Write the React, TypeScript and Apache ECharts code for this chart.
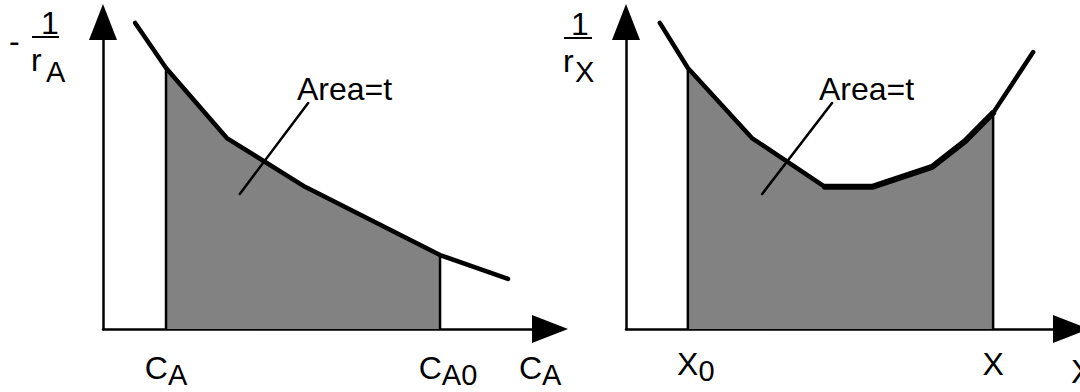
import React, { useEffect, useRef } from "react";
import * as echarts from "echarts";

// Curves in axis units (x: 0..100, y: 0..100)
const leftCurve: number[][] = [
  [7.2, 99.7], [14.1, 85.0], [27.7, 62.2], [45.2, 46.3], [75.4, 24.1], [90.6, 16.3],
];
const rightCurve: number[][] = [
  [7.6, 99.7], [13.9, 85.0], [28.3, 62.2], [44.7, 46.3], [55.3, 46.3],
  [68.8, 52.8], [76.2, 61.2], [82.5, 70.4], [91.5, 90.2],
];
// Integration limits
const leftLimits = [14.1, 75.4];
const rightLimits = [13.9, 82.5];
// Leader lines to the "Area=t" notes
const leftLeader: number[][] = [[30.6, 44.0], [45.9, 73.6]];
const rightLeader: number[][] = [[30.6, 44.0], [46.3, 73.6]];
// Tick labels on the x axes
const leftTickValues = [14.1, 75.4, 97.8];
const leftTickLabels = ["{c|C}{s|A}", "{cp|C}{s|A0}", "{c|C}{s|A}"];
const rightTickValues = [13.9, 82.5, 100];
const rightTickLabels = ["{cp|X}{s|0}", "{c|X}", "{cx|X}"];

const FONT = "'Liberation Sans', Arial, Helvetica, sans-serif";

const rich = {
  c: { fontSize: 32, lineHeight: 34, verticalAlign: "top", fontFamily: FONT, color: "#000" },
  cp: { fontSize: 32, lineHeight: 34, verticalAlign: "top", fontFamily: FONT, color: "#000", padding: [0, 0, 0, 16] },
  cx: { fontSize: 33, lineHeight: 34, verticalAlign: "top", fontFamily: FONT, color: "#000", padding: [7, 0, 0, 22] },
  s: { fontSize: 29, lineHeight: 34, verticalAlign: "top", fontFamily: FONT, color: "#000", padding: [8, 0, 0, 0] },
};

function areaData(curve: number[][], lim: number[]) {
  const inner = curve.filter((p) => p[0] >= lim[0] && p[0] <= lim[1]);
  return [[lim[0], 0], ...inner, [lim[1], 0]];
}

function xAxisFor(gridIndex: number, values: number[], labels: string[], margin: number) {
  return {
    type: "value",
    gridIndex,
    min: 0,
    max: 100,
    splitLine: { show: false },
    axisTick: { show: false },
    axisLine: {
      show: true,
      symbol: ["none", "triangle"],
      symbolSize: [28, 36],
      lineStyle: { color: "#000", width: 2.5 },
    },
    axisLabel: {
      show: true,
      customValues: values,
      margin,
      rich,
      hideOverlap: false,
      formatter: (v: number) => {
        const i = values.findIndex((x) => Math.abs(x - v) < 1e-6);
        return i >= 0 ? labels[i] : "";
      },
    },
  };
}

function yAxisFor(gridIndex: number) {
  return {
    type: "value",
    gridIndex,
    min: 0,
    max: 100,
    splitLine: { show: false },
    axisTick: { show: false },
    axisLabel: { show: false },
    axisLine: {
      show: true,
      symbol: ["none", "triangle"],
      symbolSize: [28, 36],
      lineStyle: { color: "#000", width: 2.5 },
    },
  };
}

function panelSeries(idx: number, curve: number[][], lim: number[], leader: number[][], thick?: number[]) {
  const list: any[] = [
    {
      type: "line",
      xAxisIndex: idx,
      yAxisIndex: idx,
      data: areaData(curve, lim),
      symbol: "none",
      lineStyle: { color: "#000", width: 2.5 },
      areaStyle: { color: "#828282", opacity: 1 },
      z: 2,
    },
    {
      type: "line",
      xAxisIndex: idx,
      yAxisIndex: idx,
      data: curve,
      symbol: "none",
      lineStyle: { color: "#000", width: 4.5, cap: "round", join: "round" },
      z: 3,
    },
    {
      type: "line",
      xAxisIndex: idx,
      yAxisIndex: idx,
      data: leader,
      symbol: "none",
      lineStyle: { color: "#000", width: 2.5, cap: "round" },
      z: 4,
    },
  ];
  if (thick) {
    list.push({
      type: "line",
      xAxisIndex: idx,
      yAxisIndex: idx,
      data: curve.slice(thick[0], thick[1] + 1),
      symbol: "none",
      lineStyle: { color: "#000", width: 6, cap: "round", join: "round" },
      z: 3,
    });
  }
  return list;
}

function txt(text: string, x: number, y: number, size: number, align = "left") {
  return {
    type: "text",
    x,
    y,
    style: {
      text,
      font: `${size}px ${FONT}`,
      fill: "#000",
      align,
      verticalAlign: "middle",
      textAlign: align,
      textVerticalAlign: "middle",
    },
  };
}

export default function App() {
  const ref = useRef<HTMLDivElement>(null);
  useEffect(() => {
    if (!ref.current) return;
    const chart = echarts.init(ref.current, null, { renderer: "svg" });
    chart.setOption({
      animation: false,
      backgroundColor: "#fff",
      grid: [
        { left: 103, top: 22, width: 447, height: 307, containLabel: false, outerBoundsMode: "none" },
        { left: 626, top: 22, width: 445, height: 307, containLabel: false, outerBoundsMode: "none" },
      ],
      xAxis: [
        xAxisFor(0, leftTickValues, leftTickLabels, 23),
        xAxisFor(1, rightTickValues, rightTickLabels, 19),
      ],
      yAxis: [yAxisFor(0), yAxisFor(1)],
      series: [
        ...panelSeries(0, leftCurve, leftLimits, leftLeader),
        ...panelSeries(1, rightCurve, rightLimits, rightLeader, [3, 7]),
      ],
      graphic: [
        // left y-axis title: - 1 / r_A
        txt("-", 9, 41, 32),
        txt("1", 50, 22.5, 32, "center"),
        { type: "line", shape: { x1: 32, y1: 37, x2: 59, y2: 37 }, style: { stroke: "#000", lineWidth: 2 } },
        txt("r", 31, 60, 32),
        txt("A", 46, 72, 29),
        // right y-axis title: 1 / r_X
        txt("1", 580, 24, 32, "center"),
        { type: "line", shape: { x1: 564, y1: 38, x2: 592, y2: 38 }, style: { stroke: "#000", lineWidth: 2 } },
        txt("r", 563, 61, 32),
        txt("X", 575, 72, 29),
        // notes
        txt("Area=t", 297, 88.5, 32),
        txt("Area=t", 819, 88.5, 32),
      ],
    });
    return () => chart.dispose();
  }, []);
  return (
    <div
      ref={ref}
      style={{ position: "fixed", left: 0, top: 0, width: 1080, height: 392, background: "#fff" }}
    />
  );
}
